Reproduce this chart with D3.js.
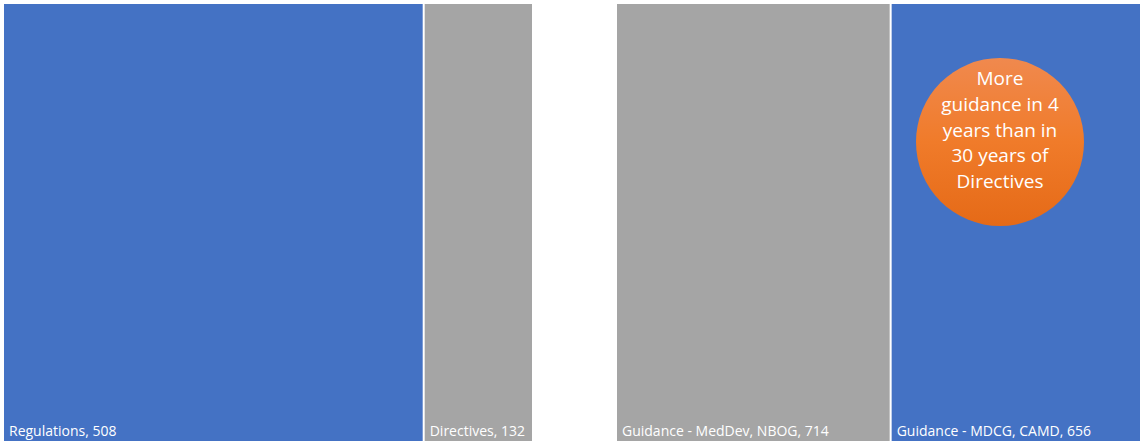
<!DOCTYPE html>
<html>
<head>
<meta charset="utf-8">
<script src="https://cdn.jsdelivr.net/npm/d3@7"></script>
<style>
  body { margin: 0; background: #fff; }
  svg { display: block; }
</style>
</head>
<body>
<script>
// left panel: legislation, right panel: guidance
var legalNames = ["Regulations", "Directives"],
    legalValues = [508, 132],
    guidanceNames = ["Guidance - MedDev, NBOG", "Guidance - MDCG, CAMD"],
    guidanceValues = [714, 656],
    boxColors = ["#4472C4", "#A5A5A5"],
    guidanceColors = ["#A5A5A5", "#4472C4"],
    calloutLines = ["More", "guidance in 4", "years than in", "30 years of", "Directives"];

var width = 1140, height = 443;

var svg = d3.select("body").append("svg")
    .attr("width", width)
    .attr("height", height);

var defs = svg.append("defs");
var grad = defs.append("linearGradient")
    .attr("id", "orange")
    .attr("x1", 0).attr("y1", 0).attr("x2", 0).attr("y2", 1);
grad.append("stop").attr("offset", "0%").attr("stop-color", "#F0894E");
grad.append("stop").attr("offset", "50%").attr("stop-color", "#F07B2A");
grad.append("stop").attr("offset", "100%").attr("stop-color", "#E56A17");

function panel(names, values, colors, x0, y0, x1, y1) {
  var root = d3.hierarchy({children: names.map(function(n, i) { return {name: n, value: values[i]}; })})
      .sum(function(d) { return d.value || 0; });

  d3.treemap()
      .tile(d3.treemapDice)
      .size([x1 - x0, y1 - y0])
      .paddingInner(2)(root);

  var g = svg.append("g").attr("transform", "translate(" + x0 + "," + y0 + ")");

  var cell = g.selectAll("g")
      .data(root.leaves())
    .enter().append("g")
      .attr("transform", function(d) { return "translate(" + d.x0 + "," + d.y0 + ")"; });

  cell.append("rect")
      .attr("width", function(d) { return d.x1 - d.x0; })
      .attr("height", function(d) { return d.y1 - d.y0; })
      .attr("fill", function(d, i) { return colors[i]; });

  cell.append("text")
      .attr("x", 5)
      .attr("y", function(d) { return d.y1 - d.y0 - 5; })
      .attr("fill", "#fff")
      .style("font-family", "'Open Sans', sans-serif")
      .style("font-size", "14px")
      .text(function(d) { return d.data.name + ", " + d.data.value; });
}

panel(legalNames, legalValues, boxColors, 4, 4, 532, 441);
panel(guidanceNames, guidanceValues, guidanceColors, 617, 4, 1142, 441);

// callout bubble
var bubble = svg.append("g").attr("transform", "translate(1000,142)");
bubble.append("circle")
    .attr("r", 84)
    .attr("fill", "url(#orange)");

bubble.append("text")
    .attr("text-anchor", "middle")
    .attr("fill", "#fff")
    .style("font-family", "'Open Sans', sans-serif")
    .style("font-size", "19px")
  .selectAll("tspan")
    .data(calloutLines)
  .enter().append("tspan")
    .attr("x", 0)
    .attr("y", function(d, i) { return -57 + i * 25.8; })
    .text(function(d) { return d; });
</script>
</body>
</html>
